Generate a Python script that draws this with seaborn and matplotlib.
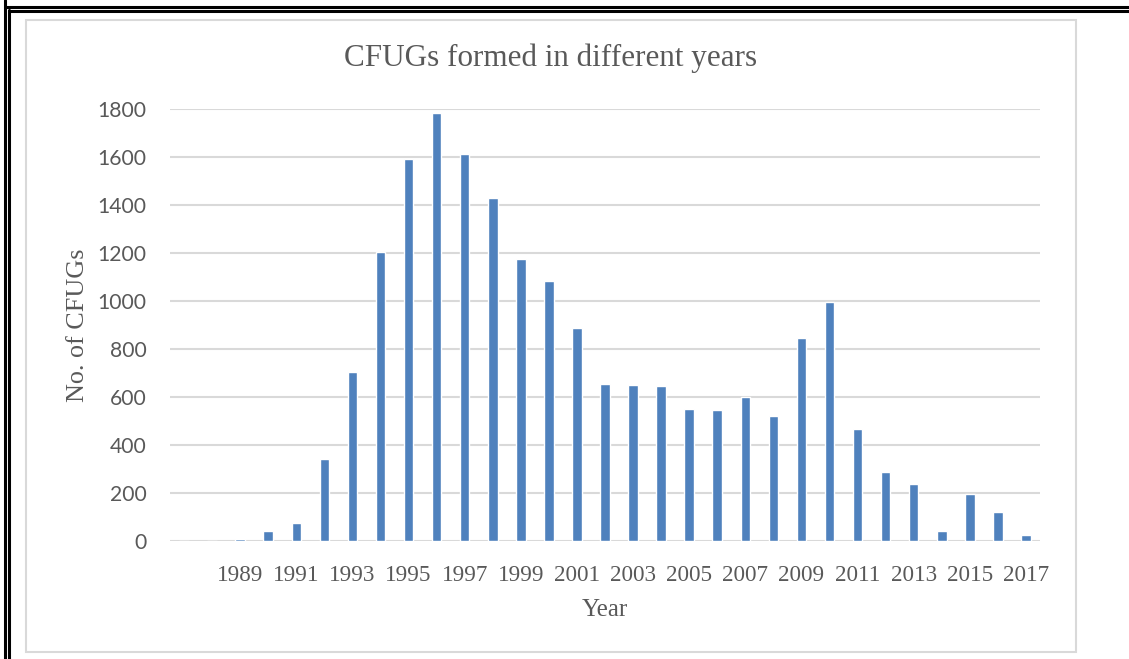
import matplotlib
matplotlib.use("Agg")
import matplotlib.pyplot as plt
import seaborn as sns
import pandas as pd
from matplotlib.lines import Line2D
from matplotlib.patches import Rectangle

# ---- data ----
years = [str(y) for y in range(1987, 2018)]
cfugs = [0, 0, 8, 42, 75, 342, 704, 1204, 1592, 1783, 1612, 1429, 1175, 1083,
         887, 654, 650, 646, 550, 546, 600, 521, 846, 996, 467, 287, 237, 42,
         196, 121, 25]
tick_years = [str(y) for y in range(1989, 2018, 2)]
y_ticks = [0, 200, 400, 600, 800, 1000, 1200, 1400, 1600, 1800]

title = "CFUGs formed in different years"
x_label = "Year"
y_label = "No. of CFUGs"

df = pd.DataFrame({"Year": years, "CFUGs": cfugs})

sns.set_theme(style="white")
W, H = 1129, 659
fig = plt.figure(figsize=(W / 100, H / 100), dpi=100)
ax = fig.add_axes([170 / W, 1 - 541 / H, (1040 - 170) / W, (541 - 109) / H])

sns.barplot(data=df, x="Year", y="CFUGs", color="#4F81BD", width=0.34,
            saturation=1, ax=ax, order=years)

ax.set_ylim(0, 1800)
ax.set_xlim(-0.5, len(years) - 0.5)
ax.set_yticks(y_ticks)
ax.set_yticklabels([str(v) for v in y_ticks], fontfamily="Lato", fontsize=15.2,
                   color="#595959")
pos = [years.index(t) for t in tick_years]
ax.set_xticks(pos)
ax.set_xticklabels(tick_years, fontfamily="Liberation Serif", fontsize=16.7,
                   color="#595959")
ax.tick_params(axis="both", length=0)
ax.tick_params(axis="y", pad=17)
ax.tick_params(axis="x", pad=17)
ax.yaxis.grid(True, color="#D9D9D9", linewidth=1.5)
ax.set_axisbelow(True)
for s in ax.spines.values():
    s.set_visible(False)

ax.set_xlabel(x_label, fontfamily="Liberation Serif", fontsize=18,
              color="#595959", labelpad=10)
ax.set_ylabel(y_label, fontfamily="Liberation Serif", fontsize=18.8,
              color="#595959", labelpad=6)

fig.text(551 / W, 1 - 58 / H, title, ha="center", va="center",
         fontfamily="Liberation Serif", fontsize=22.4, color="#595959")

# chart area border
fig.patches.append(Rectangle((26 / W, 1 - 652 / H), (1076 - 26) / W, (652 - 20) / H,
                             transform=fig.transFigure, fill=False,
                             edgecolor="#D9D9D9", linewidth=1.5))
# double black frame lines (top and left)
lw = 2.2
fig.lines.append(Line2D([5 / W, 5 / W], [1, 0], transform=fig.transFigure, color="black", lw=lw))
fig.lines.append(Line2D([9 / W, 9 / W], [1 - 10 / H, 0], transform=fig.transFigure, color="black", lw=lw))
fig.lines.append(Line2D([5 / W, 1], [1 - 6.5 / H, 1 - 6.5 / H], transform=fig.transFigure, color="black", lw=lw))
fig.lines.append(Line2D([9 / W, 1], [1 - 10.5 / H, 1 - 10.5 / H], transform=fig.transFigure, color="black", lw=lw))

fig.savefig("out.png", dpi=100)
